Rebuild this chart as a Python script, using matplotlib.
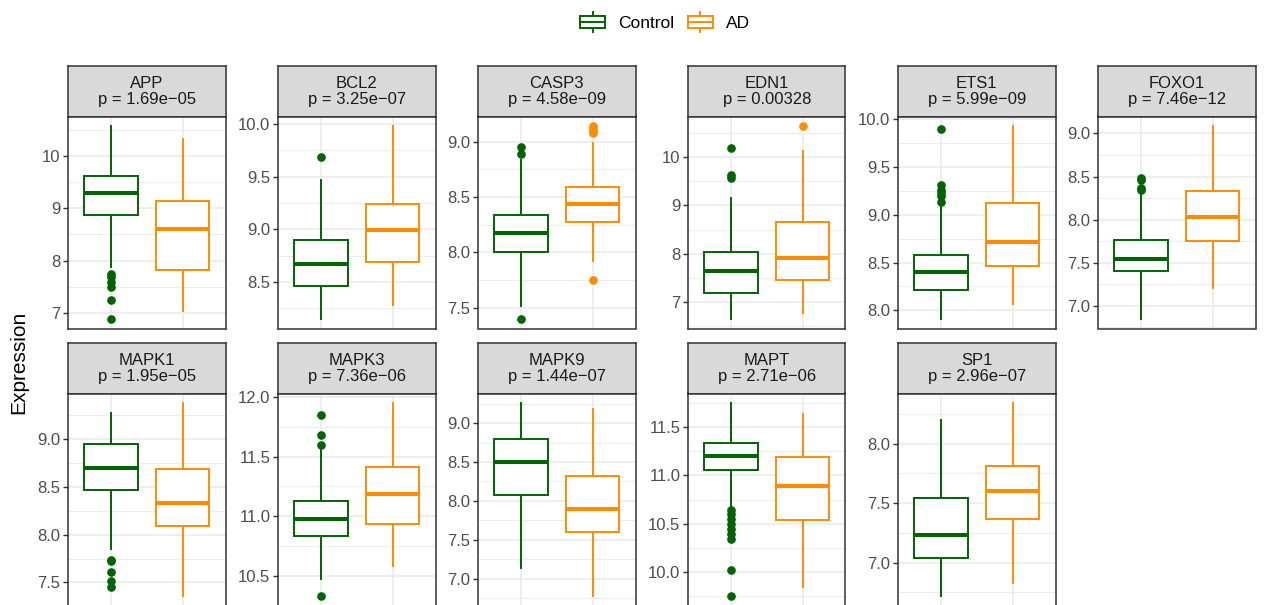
import matplotlib
matplotlib.use("Agg")
import matplotlib.pyplot as plt
from matplotlib.legend_handler import HandlerBase
from matplotlib.lines import Line2D
from matplotlib.patches import Rectangle
from matplotlib.ticker import MultipleLocator, FormatStrFormatter

plt.rcParams["font.family"] = ["Liberation Sans", "DejaVu Sans"]

genes = ["APP", "BCL2", "CASP3", "EDN1", "ETS1", "FOXO1",
         "MAPK1", "MAPK3", "MAPK9", "MAPT", "SP1"]
pvals = ["1.69e\u221205", "3.25e\u221207", "4.58e\u221209", "0.00328", "5.99e\u221209",
         "7.46e\u221212", "1.95e\u221205", "7.36e\u221206", "1.44e\u221207",
         "2.71e\u221206", "2.96e\u221207"]
tick_step = [1, 0.5, 0.5, 1, 0.5, 0.5, 0.5, 0.5, 0.5, 0.5, 0.5]

# Control group box statistics
ctrl_whislo = [7.88, 8.15, 7.52, 6.65, 7.91, 6.85, 7.85, 10.475, 7.14, 10.675, 6.72]
ctrl_q1 = [8.87, 8.46, 8.00, 7.18, 8.21, 7.40, 8.47, 10.83, 8.07, 11.06, 7.04]
ctrl_med = [9.30, 8.67, 8.175, 7.65, 8.40, 7.55, 8.70, 10.975, 8.50, 11.20, 7.23]
ctrl_q3 = [9.62, 8.90, 8.34, 8.04, 8.58, 7.77, 8.95, 11.13, 8.80, 11.34, 7.54]
ctrl_whishi = [10.58, 9.47, 8.83, 9.15, 9.09, 8.29, 9.27, 11.57, 9.257, 11.75, 8.20]
ctrl_fliers = [
    [7.74, 7.68, 7.59, 7.50, 7.24, 6.88],
    [9.69],
    [8.955, 8.89, 7.40],
    [10.19, 9.63, 9.565],
    [9.90, 9.31, 9.26, 9.23, 9.195, 9.14],
    [8.485, 8.46, 8.37, 8.34],
    [7.74, 7.72, 7.61, 7.52, 7.45],
    [11.85, 11.68, 11.60, 10.33],
    [],
    [10.64, 10.595, 10.545, 10.495, 10.44, 10.39, 10.335, 10.02, 9.75],
    [],
]

# AD group box statistics
ad_whislo = [7.04, 8.28, 7.92, 6.77, 8.07, 7.21, 7.36, 10.58, 6.78, 9.84, 6.83]
ad_q1 = [7.82, 8.69, 8.27, 7.45, 8.46, 7.75, 8.09, 10.93, 7.605, 10.54, 7.37]
ad_med = [8.60, 8.99, 8.44, 7.92, 8.72, 8.03, 8.33, 11.19, 7.90, 10.887, 7.60]
ad_q3 = [9.15, 9.24, 8.59, 8.65, 9.125, 8.33, 8.69, 11.41, 8.32, 11.19, 7.81]
ad_whishi = [10.33, 9.98, 8.985, 10.13, 9.93, 9.085, 9.375, 11.95, 9.18, 11.64, 8.34]
ad_fliers = [[], [], [9.14, 9.12, 9.10, 9.076, 7.75], [10.64], [], [], [], [], [], [], []]

groups = ["Control", "AD"]
colors = ["#006400", "#FF8C00"]

W, H = 1265, 605
fig = plt.figure(figsize=(W / 100, H / 100), dpi=100)

col_left = [68, 278, 478, 688, 898, 1098]
panel_w = 157.5
row_strip_top = [66, 343]
strip_h = 50.5
panel_h = 212

grid_col = "#EBEBEB"
border_col = "#333333"


def px_axes(x0, y0, w, h):
    return fig.add_axes([x0 / W, 1 - (y0 + h) / H, w / W, h / H])


def stats_for(i):
    out = []
    for lo, q1, med, q3, hi, fl in [
        (ctrl_whislo[i], ctrl_q1[i], ctrl_med[i], ctrl_q3[i], ctrl_whishi[i], ctrl_fliers[i]),
        (ad_whislo[i], ad_q1[i], ad_med[i], ad_q3[i], ad_whishi[i], ad_fliers[i]),
    ]:
        out.append(dict(whislo=lo, q1=q1, med=med, q3=q3, whishi=hi, fliers=fl))
    return out


for i, gene in enumerate(genes):
    row, col = divmod(i, 6)
    x0 = col_left[col]
    top = row_strip_top[row]

    # strip with gene name and p-value
    sax = px_axes(x0, top, panel_w, strip_h)
    sax.set_facecolor("#D9D9D9")
    sax.set_xticks([])
    sax.set_yticks([])
    for sp in sax.spines.values():
        sp.set_color(border_col)
        sp.set_linewidth(1.1)
    sax.text(0.5, 0.5, f"{gene}\np = {pvals[i]}", ha="center", va="center",
             fontsize=12, color="#1A1A1A", linespacing=1.1, transform=sax.transAxes)

    ax = px_axes(x0, top + strip_h, panel_w, panel_h)
    stats = stats_for(i)
    for j, st in enumerate(stats):
        c = colors[j]
        ax.bxp([st], positions=[j + 1], widths=0.75, showcaps=False, patch_artist=True,
               boxprops=dict(facecolor="white", edgecolor=c, linewidth=1.4),
               whiskerprops=dict(color=c, linewidth=1.4),
               medianprops=dict(color=c, linewidth=2.9, solid_capstyle="butt"),
               flierprops=dict(marker="o", markerfacecolor=c, markeredgecolor=c,
                               markersize=5.2, linestyle="none"),
               zorder=3)

    vals = []
    for st in stats:
        vals += [st["whislo"], st["whishi"]] + list(st["fliers"])
    lo, hi = min(vals), max(vals)
    pad = (hi - lo) * 0.05
    ax.set_ylim(lo - pad, hi + pad)
    ax.set_xlim(0.4, 2.6)

    step = tick_step[i]
    ax.yaxis.set_major_locator(MultipleLocator(step))
    ax.yaxis.set_minor_locator(MultipleLocator(step / 2))
    ax.yaxis.set_major_formatter(FormatStrFormatter("%g" if step >= 1 else "%.1f"))
    ax.set_xticks([1, 2])
    ax.set_xticklabels([])
    ax.tick_params(axis="x", length=0)
    ax.tick_params(axis="y", which="major", length=3.5, width=1.0, color=border_col,
                   labelsize=12, labelcolor="#4D4D4D", pad=2)
    ax.tick_params(axis="y", which="minor", length=0)
    ax.grid(True, which="major", color=grid_col, linewidth=1.2, zorder=0)
    ax.grid(True, which="minor", axis="y", color=grid_col, linewidth=0.7, zorder=0)
    ax.set_axisbelow(True)
    for sp in ax.spines.values():
        sp.set_color(border_col)
        sp.set_linewidth(1.1)

fig.text(19 / W, 1 - 362 / H, "Expression", rotation=90, ha="center", va="center",
         fontsize=15, color="black")


class BoxKey(HandlerBase):
    def create_artists(self, legend, orig_handle, xdescent, ydescent, width, height,
                       fontsize, trans):
        c = orig_handle.get_color()
        x0, y0 = -xdescent, -ydescent
        b0, b1 = y0 + height * 0.18, y0 + height * 0.82
        xm = x0 + width / 2
        box = Rectangle((x0, b0), width, b1 - b0, facecolor="white", edgecolor=c,
                        linewidth=1.4, transform=trans)
        med = Line2D([x0, x0 + width], [(b0 + b1) / 2] * 2, color=c, linewidth=1.4,
                     transform=trans)
        w1 = Line2D([xm, xm], [y0 - height * 0.05, b0], color=c, linewidth=1.4,
                    transform=trans)
        w2 = Line2D([xm, xm], [b1, y0 + height * 1.05], color=c, linewidth=1.4,
                    transform=trans)
        return [w1, w2, box, med]


handles = [Line2D([], [], color=c) for c in colors]
fig.legend(handles, groups, handler_map={Line2D: BoxKey()}, loc="center",
           bbox_to_anchor=(665 / W, 1 - 22 / H), ncol=2, frameon=False, fontsize=12.5,
           handlelength=1.45, handleheight=1.2, handletextpad=0.75, columnspacing=0.75,
           borderpad=0)

fig.savefig("out.png", dpi=100)
